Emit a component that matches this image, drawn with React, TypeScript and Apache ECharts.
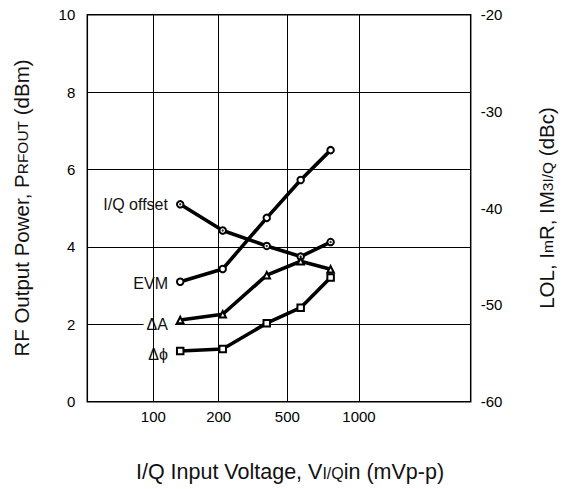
import React, { useEffect, useRef } from "react";
import * as echarts from "echarts";

// X axis ticks (mVp-p) and their positions along the (non-uniform) printed axis
const xTickValues = [100, 200, 500, 1000];
const xTickLabels = ["100", "200", "500", "1000"];
const xTickPositions = [66, 131.4, 200, 271.7];
const xAxisMax = 383.4;

// Measured points
const inputVoltage = [133, 211, 380, 569, 760]; // mVp-p
const evm = [3.1, 3.43, 4.75, 5.73, 6.5]; // left axis
const deltaA = [2.11, 2.26, 3.27, 3.63, 3.42]; // left axis
const deltaPhi = [1.31, 1.36, 2.03, 2.43, 3.21]; // left axis
const iqOffset = [-39.6, -42.3, -43.9, -45.0, -43.5]; // dBc, right axis

const leftTicks = { min: 0, max: 10, interval: 2 };
const rightTicks = { min: -60, max: -20, interval: 10 };

const FONT = "'Liberation Sans', Arial, Helvetica, sans-serif";

function toAxis(v: number): number {
  const lv = Math.log(v);
  const n = xTickValues.length;
  for (let i = 0; i < n - 1; i++) {
    const a = xTickValues[i];
    const b = xTickValues[i + 1];
    if (v <= b || i === n - 2) {
      const f = (lv - Math.log(a)) / (Math.log(b) - Math.log(a));
      return xTickPositions[i] + f * (xTickPositions[i + 1] - xTickPositions[i]);
    }
  }
  return 0;
}

function seriesData(values: number[], labelText: string, labelOffsetY: number) {
  return values.map((v, i) => {
    const item: any = { value: [toAxis(inputVoltage[i]), v] };
    if (i === 0) {
      item.label = {
        show: true,
        formatter: labelText,
        position: "left",
        distance: 1,
        offset: [0, labelOffsetY],
        color: "#111",
        fontSize: 16,
        fontFamily: FONT,
        backgroundColor: "#fff",
        padding: [1, 7, 1, 3],
      };
    }
    return item;
  });
}

function lineSeries(name: string, values: number[], symbol: string, yAxisIndex: number, label: string, offY: number) {
  return {
    name,
    type: "line",
    yAxisIndex,
    data: seriesData(values, label, offY),
    symbol,
    symbolSize: 6.5,
    showSymbol: true,
    lineStyle: { color: "#000", width: 3.6 },
    itemStyle: { color: "#000", borderWidth: 1.1, borderColor: "#000" },
    z: 4,
    silent: true,
  };
}

function titleRich(size: number, small: number) {
  return {
    n: { fontSize: size, fontFamily: FONT, fill: "#111" },
    s: { fontSize: small, fontFamily: FONT, fill: "#111", padding: [3, 0, 0, 0] },
  };
}

export default function App() {
  const ref = useRef<HTMLDivElement>(null);

  useEffect(() => {
    if (!ref.current) return;
    const chart = echarts.init(ref.current, null, { renderer: "svg" });

    const option: any = {
      animation: false,
      backgroundColor: "#fff",
      grid: {
        left: 87.3,
        right: 98.3,
        top: 14.7,
        bottom: 87.3,
        show: true,
        borderColor: "#000",
        borderWidth: 1.5,
        backgroundColor: "transparent",
      },
      xAxis: {
        type: "value",
        min: 0,
        max: xAxisMax,
        axisLine: { show: false },
        axisTick: { show: false, customValues: xTickPositions },
        splitLine: { show: false },
        axisLabel: {
          customValues: xTickPositions,
          formatter: (val: number) => {
            let best = 0;
            for (let i = 1; i < xTickPositions.length; i++) {
              if (Math.abs(xTickPositions[i] - val) < Math.abs(xTickPositions[best] - val)) best = i;
            }
            return xTickLabels[best];
          },
          color: "#000",
          fontSize: 15,
          fontFamily: FONT,
          margin: 7,
        },
      },
      yAxis: [
        {
          type: "value",
          min: leftTicks.min,
          max: leftTicks.max,
          interval: leftTicks.interval,
          axisLine: { show: false },
          axisTick: { show: false },
          splitLine: { show: true, lineStyle: { color: "#000", width: 1 } },
          axisLabel: { color: "#000", fontSize: 15, fontFamily: FONT, margin: 12 },
        },
        {
          type: "value",
          position: "right",
          min: rightTicks.min,
          max: rightTicks.max,
          interval: rightTicks.interval,
          axisLine: { show: false },
          axisTick: { show: false },
          splitLine: { show: false },
          axisLabel: { color: "#000", fontSize: 15, fontFamily: FONT, margin: 10 },
        },
      ],
      series: [
        {
          type: "line",
          data: [],
          silent: true,
          z: 1,
          markLine: {
            silent: true,
            symbol: ["none", "none"],
            label: { show: false },
            lineStyle: { color: "#000", width: 1, type: "solid" },
            data: xTickPositions.map((p) => ({ xAxis: p })),
          },
        },
        lineSeries("I/Q offset", iqOffset, "emptyCircle", 1, "I/Q offset", 0),
        {
          type: "scatter",
          yAxisIndex: 1,
          data: iqOffset.map((v, i) => [toAxis(inputVoltage[i]), v]),
          symbol: "circle",
          symbolSize: 2.4,
          itemStyle: { color: "#000" },
          z: 6,
          silent: true,
        },
        lineSeries("EVM", evm, "emptyCircle", 0, "EVM", 2),
        lineSeries("ΔA", deltaA, "emptyTriangle", 0, "ΔA", 4),
        lineSeries("Δϕ", deltaPhi, "emptyRect", 0, "Δϕ", 3),
      ],
      graphic: [
        {
          type: "text",
          x: 290,
          y: 472,
          silent: true,
          style: {
            text: "{n|I/Q Input Voltage, V}{s|I/Q}{n|in (mVp-p)}",
            align: "center",
            verticalAlign: "middle",
            fill: "#111",
            rich: titleRich(21.5, 16),
          },
        },
        {
          type: "text",
          x: 21,
          y: 208,
          rotation: Math.PI / 2,
          silent: true,
          style: {
            text: "{n|RF Output Power, P}{s|RFOUT}{n| (dBm)}",
            align: "center",
            verticalAlign: "middle",
            fill: "#111",
            rich: titleRich(20.5, 15.5),
          },
        },
        {
          type: "text",
          x: 546,
          y: 208,
          rotation: Math.PI / 2,
          silent: true,
          style: {
            text: "{n|LOL, I}{s|m}{n|R, IM}{s|3I/Q}{n| (dBc)}",
            align: "center",
            verticalAlign: "middle",
            fill: "#111",
            rich: titleRich(20.5, 15.5),
          },
        },
      ],
    };

    chart.setOption(option);
    return () => chart.dispose();
  }, []);

  return (
    <div
      ref={ref}
      style={{ position: "fixed", left: 0, top: 0, width: 569, height: 489, background: "#fff" }}
    />
  );
}
